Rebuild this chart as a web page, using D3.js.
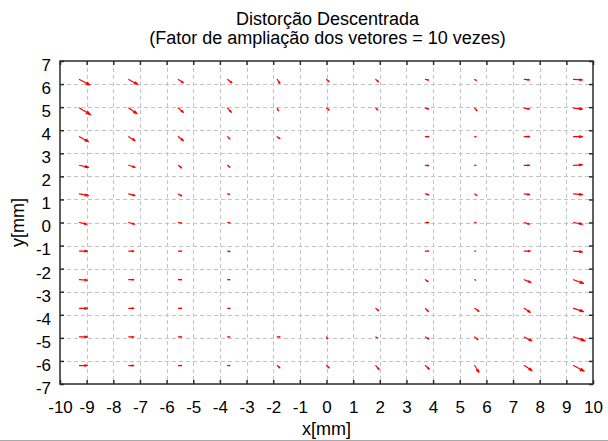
<!DOCTYPE html>
<html>
<head>
<meta charset="utf-8">
<script src="https://cdn.jsdelivr.net/npm/d3@7"></script>
<style>
  html, body { margin: 0; padding: 0; background: #ffffff; }
  svg { display: block; font-family: "Liberation Sans", Arial, sans-serif; }
</style>
</head>
<body>
<svg id="chart" width="608" height="441"></svg>
<script>
// Measurement grid (mm): tail positions of each distortion vector
const gridX = [-9.27, -7.42, -5.56, -3.71, -1.85, 0, 1.85, 3.71, 5.56, 7.42, 9.27];
const gridY = [6.2, 4.96, 3.72, 2.48, 1.24, 0, -1.24, -2.48, -3.72, -4.96, -6.2];

// Decentering distortion components in micrometres, one row per gridY value
const distX = [
  [39.4, 33.8, 18.8, 16.1, 10.1, 10.1, 10.1, 12.4, 6.4, 19.9, 33.8],
  [41.3, 31.1, 18.8, 13.9, 4.9, 10.1, 7.5, 12.4, 8.6, 19.9, 33.8],
  [33.8, 23.6, 18.8, 8.6, 10.1, 0, 0, 12.4, 4.9, 19.9, 33.8],
  [33.8, 23.6, 12.4, 8.6, 0, 0, 0, 12.4, 4.9, 19.9, 33.8],
  [33.8, 23.6, 12.4, 7.5, 0, 0, 0, 12.4, 8.6, 19.9, 33.8],
  [27.4, 22.5, 12.4, 8.6, 0, 0, 0, 12.4, 4.9, 19.9, 33.8],
  [30.0, 18.8, 12.4, 8.6, 0, 0, 0, 12.4, 3.8, 22.5, 33.8],
  [30.0, 18.8, 12.4, 8.6, 0, 0, 0, 10.5, 3.8, 25.1, 37.5],
  [30.0, 18.8, 12.4, 8.6, 0, 0, 10.1, 11.3, 16.1, 22.5, 37.5],
  [30.0, 18.8, 12.4, 8.6, 10.1, 3.8, 6.4, 13.1, 12.4, 28.9, 43.9],
  [30.0, 18.8, 12.4, 8.6, 10.1, 10.1, 12.4, 15.0, 16.1, 28.9, 40.1]
];
const distY = [
  [-23.8, -21.7, -14.3, -14.3, -17.3, -10.0, -10.0, -3.0, -4.3, -2.2, -2.2],
  [-28.2, -24.7, -18.6, -18.6, -11.7, -8.7, -8.7, -4.3, -11.7, -4.3, -4.3],
  [-21.7, -17.3, -17.3, -10.0, -8.7, 0, 0, 0, 0, 0, 0],
  [-8.7, -8.7, -11.7, -8.7, 0, 0, 0, -1.3, 0, 0, 2.2],
  [-7.4, -7.4, -8.7, -2.2, 0, 0, 0, -4.3, -7.4, -3.0, -3.0],
  [-7.4, -7.4, -2.2, -1.3, 0, 0, 0, 0, 0, -7.4, -7.4],
  [0, 0, 0, -2.2, 0, 0, 0, 0, 0, 0, -3.0],
  [-2.2, 0, 0, 0, 0, 0, 0, -8.7, -2.2, -11.7, -16.0],
  [0, 0, 0, 0, 0, 0, -10.0, -13.9, -13.0, -17.3, -14.3],
  [0, 0, 0, 0, 0, -8.7, -4.3, -8.7, -11.7, -17.3, -17.3],
  [0, 0, 0, 0, -10.0, -10.0, -17.3, -16.0, -29.0, -21.7, -24.7]
];

// Vector magnification applied when drawing
const magnification = 10;

const xTicks = d3.range(-10, 11, 1);
const yTicks = d3.range(-7, 8, 1);

const titleLines = ["Distorção Descentrada", "(Fator de ampliação dos vetores = 10 vezes)"];
const xLabel = "x[mm]";
const yLabel = "y[mm]";

const svg = d3.select("#chart");
const W = 608, H = 441;
const plot = { left: 60, right: 593, top: 61, bottom: 384 };

const x = d3.scaleLinear().domain([-10, 10]).range([plot.left, plot.right]);
const y = d3.scaleLinear().domain([-7, 7]).range([plot.bottom, plot.top]);

svg.append("rect").attr("width", W).attr("height", H).attr("fill", "#ffffff");

// Dashed grid
const grid = svg.append("g").attr("stroke", "#c4c4c4").attr("stroke-width", 1)
  .attr("stroke-dasharray", "4,3");
grid.selectAll("line.gx").data(xTicks.slice(1, -1)).enter().append("line")
  .attr("x1", d => Math.round(x(d)) + 0.5).attr("x2", d => Math.round(x(d)) + 0.5)
  .attr("y1", plot.top).attr("y2", plot.bottom);
grid.selectAll("line.gy").data(yTicks.slice(1, -1)).enter().append("line")
  .attr("y1", d => Math.round(y(d)) + 0.5).attr("y2", d => Math.round(y(d)) + 0.5)
  .attr("x1", plot.left).attr("x2", plot.right);

// Axes with inward ticks on all four sides; labels use a plain hyphen minus
const tickLen = 4;
const axisColor = "#2b2b2b";
const fontSize = 17;
const plainFormat = d => String(d);

const bottomAxis = svg.append("g").attr("transform", `translate(0,${plot.bottom})`)
  .call(d3.axisBottom(x).tickValues(xTicks).tickSize(-tickLen).tickPadding(15).tickFormat(plainFormat));
const topAxis = svg.append("g").attr("transform", `translate(0,${plot.top})`)
  .call(d3.axisTop(x).tickValues(xTicks).tickSize(-tickLen).tickFormat(""));
const leftAxis = svg.append("g").attr("transform", `translate(${plot.left},0)`)
  .call(d3.axisLeft(y).tickValues(yTicks).tickSize(-tickLen).tickPadding(9).tickFormat(plainFormat));
const rightAxis = svg.append("g").attr("transform", `translate(${plot.right},0)`)
  .call(d3.axisRight(y).tickValues(yTicks).tickSize(-tickLen).tickFormat(""));

[bottomAxis, topAxis, leftAxis, rightAxis].forEach(g => {
  g.select(".domain").remove();
  g.selectAll(".tick line").attr("stroke", axisColor).attr("stroke-width", 1.5);
  g.selectAll(".tick text").attr("fill", "#000").attr("font-size", fontSize)
    .attr("font-family", "Liberation Sans, Arial, sans-serif");
});
leftAxis.selectAll(".tick text").attr("dy", "0.55em");
bottomAxis.selectAll(".tick text").attr("dy", "0.85em");

svg.append("rect")
  .attr("x", plot.left).attr("y", plot.top)
  .attr("width", plot.right - plot.left).attr("height", plot.bottom - plot.top)
  .attr("fill", "none").attr("stroke", axisColor).attr("stroke-width", 1.5);

// Distortion vectors (quiver-style arrows); zero-length vectors draw nothing
const alpha = 0.33, beta = 0.33;
const vectors = [];
gridY.forEach((gy, r) => {
  gridX.forEach((gx, c) => {
    const u = distX[r][c] / 1000 * magnification;
    const v = distY[r][c] / 1000 * magnification;
    if (u !== 0 || v !== 0) vectors.push({ gx, gy, u, v });
  });
});

const arrowPath = d => {
  const tx = d.gx + d.u, ty = d.gy + d.v;
  const h1x = tx - alpha * (d.u + beta * d.v), h1y = ty - alpha * (d.v - beta * d.u);
  const h2x = tx - alpha * (d.u - beta * d.v), h2y = ty - alpha * (d.v + beta * d.u);
  return `M${x(d.gx)},${y(d.gy)}L${x(tx)},${y(ty)}` +
         `M${x(h1x)},${y(h1y)}L${x(tx)},${y(ty)}L${x(h2x)},${y(h2y)}`;
};

svg.append("g").selectAll("path").data(vectors).enter().append("path")
  .attr("d", arrowPath)
  .attr("fill", "none").attr("stroke", "#ff0000").attr("stroke-width", 1.2)
  .attr("stroke-linecap", "round").attr("stroke-linejoin", "round");

// Title and axis labels
svg.append("g").selectAll("text").data(titleLines).enter().append("text")
  .attr("x", (plot.left + plot.right) / 2 + 1)
  .attr("y", (d, i) => 25 + i * 19)
  .attr("text-anchor", "middle").attr("font-size", 18).attr("fill", "#000")
  .text(d => d);

svg.append("text")
  .attr("x", (plot.left + plot.right) / 2).attr("y", 435)
  .attr("text-anchor", "middle").attr("font-size", 18).attr("fill", "#000")
  .text(xLabel);

svg.append("text")
  .attr("transform", `translate(24,${(plot.top + plot.bottom) / 2}) rotate(-90)`)
  .attr("text-anchor", "middle").attr("font-size", 18).attr("fill", "#000")
  .text(yLabel);

// Window edge line along the bottom
svg.append("line").attr("x1", 0).attr("x2", W).attr("y1", 440.5).attr("y2", 440.5)
  .attr("stroke", "#a8a8a8").attr("stroke-width", 1);
</script>
</body>
</html>
